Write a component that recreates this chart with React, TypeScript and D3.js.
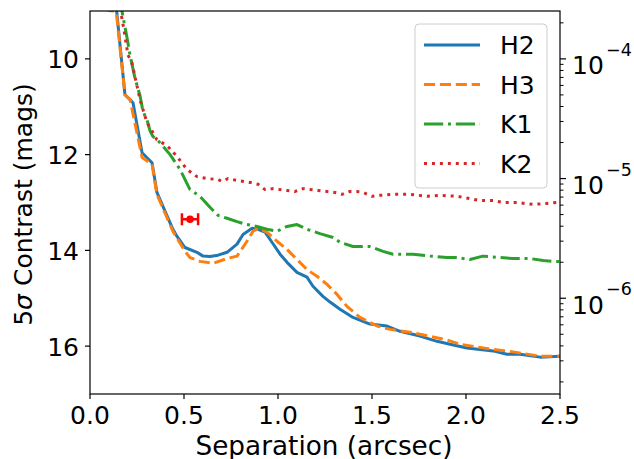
import React from "react";
import * as d3 from "d3";

// ---- data (separation arcsec, contrast mags) ----
const h2Sep = [0.12, 0.142, 0.186, 0.213, 0.229, 0.277, 0.33, 0.356, 0.441, 0.463, 0.505, 0.569, 0.601, 0.638, 0.681, 0.729, 0.782, 0.814, 0.862, 0.894, 0.931, 0.968, 1.011, 1.048, 1.101, 1.154, 1.186, 1.239, 1.277, 1.33, 1.399, 1.489, 1.58, 1.649, 1.755, 1.846, 1.915, 2.005, 2.144, 2.218, 2.287, 2.394, 2.5];
const h2Mag = [8.7, 9.01, 10.75, 10.85, 10.92, 11.96, 12.17, 12.79, 13.56, 13.71, 13.94, 14.04, 14.12, 14.13, 14.1, 14.04, 13.87, 13.67, 13.54, 13.56, 13.62, 13.83, 14.08, 14.25, 14.46, 14.56, 14.75, 14.96, 15.08, 15.23, 15.4, 15.54, 15.58, 15.69, 15.79, 15.9, 15.96, 16.04, 16.1, 16.17, 16.17, 16.23, 16.21];

const h3Sep = [0.08, 0.1, 0.125, 0.14, 0.186, 0.213, 0.277, 0.33, 0.356, 0.441, 0.505, 0.532, 0.585, 0.654, 0.729, 0.782, 0.835, 0.867, 0.894, 0.941, 0.995, 1.048, 1.101, 1.154, 1.207, 1.261, 1.314, 1.367, 1.436, 1.527, 1.596, 1.702, 1.824, 1.899, 1.968, 2.128, 2.25, 2.394, 2.5];
const h3Mag = [8.9, 8.99, 9.0, 9.03, 10.75, 10.85, 12.06, 12.2, 12.83, 13.6, 14.02, 14.15, 14.23, 14.27, 14.17, 14.12, 13.81, 13.6, 13.54, 13.62, 13.81, 13.98, 14.19, 14.4, 14.54, 14.71, 14.92, 15.17, 15.4, 15.58, 15.65, 15.71, 15.81, 15.87, 15.96, 16.06, 16.12, 16.21, 16.21];

const k1Sep = [0.155, 0.17, 0.197, 0.213, 0.239, 0.266, 0.282, 0.303, 0.319, 0.335, 0.372, 0.426, 0.479, 0.532, 0.585, 0.638, 0.681, 0.729, 0.782, 0.835, 0.888, 0.941, 0.995, 1.048, 1.101, 1.154, 1.223, 1.293, 1.33, 1.399, 1.489, 1.559, 1.612, 1.718, 1.809, 1.899, 1.952, 2.021, 2.09, 2.181, 2.25, 2.34, 2.41, 2.463, 2.5];
const k1Mag = [8.7, 9.0, 9.56, 9.92, 10.4, 10.77, 11.1, 11.27, 11.5, 11.62, 11.75, 12.0, 12.31, 12.73, 12.87, 13.1, 13.27, 13.33, 13.4, 13.46, 13.5, 13.56, 13.6, 13.5, 13.46, 13.56, 13.65, 13.73, 13.83, 13.92, 13.92, 14.02, 14.08, 14.08, 14.12, 14.15, 14.15, 14.19, 14.12, 14.15, 14.17, 14.17, 14.21, 14.23, 14.23];

const k2Sep = [0.16, 0.181, 0.202, 0.223, 0.266, 0.303, 0.335, 0.356, 0.41, 0.463, 0.516, 0.569, 0.622, 0.681, 0.702, 0.734, 0.782, 0.851, 0.894, 0.931, 0.973, 1.048, 1.09, 1.133, 1.213, 1.261, 1.303, 1.34, 1.383, 1.42, 1.452, 1.5, 1.543, 1.612, 1.702, 1.793, 1.862, 1.952, 2.074, 2.144, 2.197, 2.271, 2.356, 2.431, 2.484, 2.5];
const k2Mag = [8.94, 9.4, 9.92, 10.08, 10.85, 11.33, 11.54, 11.69, 11.81, 12.04, 12.31, 12.46, 12.5, 12.52, 12.56, 12.5, 12.54, 12.58, 12.62, 12.73, 12.71, 12.75, 12.77, 12.71, 12.75, 12.77, 12.79, 12.83, 12.77, 12.77, 12.79, 12.87, 12.85, 12.83, 12.83, 12.87, 12.85, 12.87, 12.96, 12.96, 13.0, 13.0, 13.04, 13.02, 13.0, 13.0];

const seriesNames = ["H2", "H3", "K1", "K2"];
const seriesColors = ["#1f77b4", "#ff7f0e", "#2ca02c", "#d62728"];

// companion point with horizontal error bar
const pointSep = [0.532];
const pointMag = [13.35];
const pointSepErr = [0.043];

const xTicks = [0.0, 0.5, 1.0, 1.5, 2.0, 2.5];
const yTicks = [10, 12, 14, 16];
const rightMajor = [-4, -5, -6];

const W = 634, H = 459;
const L = 90, R = 560, T = 11, B = 394;
const FONT = "DejaVu Sans, sans-serif";
const FS = 25;

export default function App() {
  const x = d3.scaleLinear().domain([0, 2.5]).range([L, R]);
  const y = d3.scaleLinear().domain([9, 17]).range([T, B]);
  const yR = d3.scaleLog().domain([Math.pow(10, -3.6), Math.pow(10, -6.8)]).range([T, B]);

  const lw = 3;
  const dashes = ["none", `${3.7 * lw},${1.6 * lw}`, `${6.4 * lw},${1.6 * lw},${1 * lw},${1.6 * lw}`, `${1 * lw},${1.65 * lw}`];
  const seps = [h2Sep, h3Sep, k1Sep, k2Sep];
  const mags = [h2Mag, h3Mag, k1Mag, k2Mag];

  const line = d3.line<[number, number]>().x(d => x(d[0])).y(d => y(d[1]));

  const minorR: number[] = [];
  for (let e = -7; e <= -4; e++) {
    for (let m = 2; m <= 9; m++) {
      const v = m * Math.pow(10, e);
      if (v >= Math.pow(10, -6.8) && v <= Math.pow(10, -3.6)) minorR.push(v);
    }
  }

  const legX = 415, legY = 24, legW = 132, legH = 164;
  const rowH = 39.5;

  return (
    <svg width={W} height={H} style={{ position: "absolute", left: 0, top: 0, background: "#fff" }} fontFamily={FONT}>
      <defs>
        <clipPath id="plotclip">
          <rect x={L} y={T} width={R - L} height={B - T} />
        </clipPath>
      </defs>
      <rect x={0} y={0} width={W} height={H} fill="#fff" />
      <g clipPath="url(#plotclip)">
        {seps.map((s, i) => (
          <path
            key={i}
            d={line(s.map((v, j) => [v, mags[i][j]] as [number, number])) || ""}
            fill="none"
            stroke={seriesColors[i]}
            strokeWidth={lw}
            strokeDasharray={dashes[i]}
            strokeLinejoin="round"
          />
        ))}
        {pointSep.map((p, i) => (
          <g key={i} stroke="#ff0000" fill="#ff0000">
            <line x1={x(p - pointSepErr[i])} x2={x(p + pointSepErr[i])} y1={y(pointMag[i])} y2={y(pointMag[i])} strokeWidth={2.5} />
            <line x1={x(p - pointSepErr[i])} x2={x(p - pointSepErr[i])} y1={y(pointMag[i]) - 6} y2={y(pointMag[i]) + 6} strokeWidth={2.5} />
            <line x1={x(p + pointSepErr[i])} x2={x(p + pointSepErr[i])} y1={y(pointMag[i]) - 6} y2={y(pointMag[i]) + 6} strokeWidth={2.5} />
            <circle cx={x(p)} cy={y(pointMag[i])} r={3.8} stroke="none" />
          </g>
        ))}
      </g>

      {/* spines */}
      <rect x={L} y={T} width={R - L} height={B - T} fill="none" stroke="#000" strokeWidth={1.2} />

      {/* x axis */}
      {xTicks.map(t => (
        <g key={t}>
          <line x1={x(t)} x2={x(t)} y1={B} y2={B + 5} stroke="#000" strokeWidth={1.2} />
          <text x={x(t)} y={424} textAnchor="middle" fontSize={FS} fill="#000">{t.toFixed(1)}</text>
        </g>
      ))}
      <text x={(L + R) / 2 - 1} y={455} textAnchor="middle" fontSize={26.3} fill="#000">Separation (arcsec)</text>

      {/* y axis left */}
      {yTicks.map(t => (
        <g key={t}>
          <line x1={L - 5} x2={L} y1={y(t)} y2={y(t)} stroke="#000" strokeWidth={1.2} />
          <text x={79} y={y(t) + 9.5} textAnchor="end" fontSize={FS} fill="#000">{t}</text>
        </g>
      ))}
      <text transform={`translate(32, ${(T + B) / 2 + 2}) rotate(-90)`} textAnchor="middle" fontSize={FS} fill="#000">
        5<tspan fontStyle="italic">σ</tspan> Contrast (mags)
      </text>

      {/* right log axis */}
      {minorR.map(v => (
        <line key={v} x1={R} x2={R + 3.5} y1={yR(v)} y2={yR(v)} stroke="#000" strokeWidth={1} />
      ))}
      {rightMajor.map(e => {
        const yy = yR(Math.pow(10, e));
        return (
          <g key={e}>
            <line x1={R} x2={R + 6} y1={yy} y2={yy} stroke="#000" strokeWidth={1.2} />
            <text x={572} y={yy + 15.5} fontSize={FS} fill="#000">10</text>
            <text x={606} y={yy - 3} fontSize={FS * 0.7} fill="#000">{"\u2212" + Math.abs(e)}</text>
          </g>
        );
      })}

      {/* legend */}
      <rect x={legX} y={legY} width={legW} height={legH} rx={4} fill="#fff" fillOpacity={0.8} stroke="#cccccc" strokeWidth={1} />
      {seriesNames.map((n, i) => {
        const yy = legY + 21 + i * rowH;
        return (
          <g key={n}>
            <line x1={424} x2={480} y1={yy} y2={yy} stroke={seriesColors[i]} strokeWidth={lw} strokeDasharray={dashes[i]} />
            <text x={500} y={yy + 9} fontSize={FS} fill="#000">{n}</text>
          </g>
        );
      })}
    </svg>
  );
}
